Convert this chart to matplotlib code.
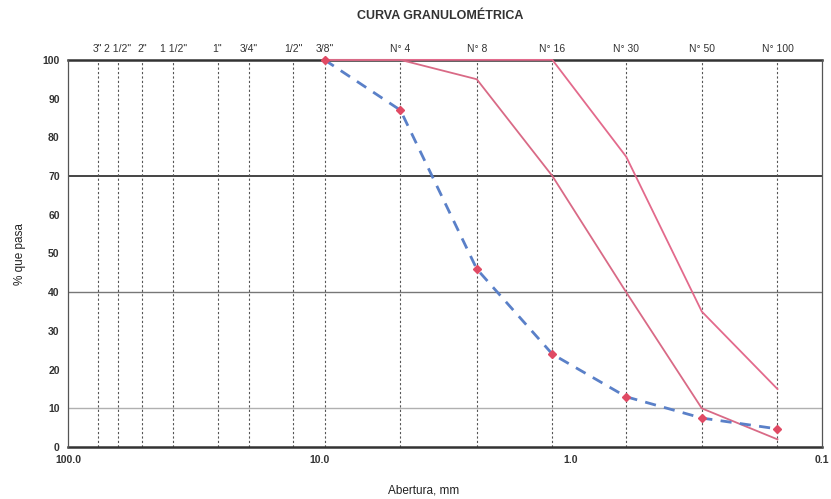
#!/usr/bin/env python3
import matplotlib
matplotlib.use("Agg")
import matplotlib.pyplot as plt

# sieve names and openings (mm)
sieve_labels = ['3"', '2 1/2"', '2"', '1 1/2"', '1"', '3/4"', '1/2"', '3/8"',
                "N° 4", "N° 8", "N° 16", "N° 30", "N° 50", "N° 100"]
sieve_mm = [76.2, 63.5, 50.8, 38.1, 25.4, 19.05, 12.7, 9.525,
            4.75, 2.36, 1.18, 0.6, 0.3, 0.15]

# curves plotted from 3/8" down to N° 100
curve_mm = [9.525, 4.75, 2.36, 1.18, 0.6, 0.3, 0.15]
sample_pass = [100, 87, 46, 24, 13, 7.5, 4.7]
upper_limit = [100, 100, 100, 100, 75, 35, 15]
lower_limit = [100, 100, 95, 70, 40, 10, 2]

y_ticks = list(range(0, 101, 10))
x_ticks = [100, 10, 1, 0.1]
x_tick_labels = ["100.0", "10.0", "1.0", "0.1"]

plt.rcParams["font.family"] = ["Liberation Sans", "DejaVu Sans"]

fig = plt.figure(figsize=(8.31, 4.99), dpi=100)
ax = fig.add_axes([0.0818, 0.104, 0.907, 0.776])

ax.set_xscale("log")
ax.set_xlim(100, 0.1)
ax.set_ylim(0, 100)

# horizontal reference lines
ax.axhline(70, color="#444444", lw=1.4, zorder=1)
ax.axhline(40, color="#777777", lw=1.0, zorder=1)
ax.axhline(10, color="#b0b0b0", lw=1.0, zorder=1)

# vertical sieve lines
for d in sieve_mm:
    ax.axvline(d, color="#555555", lw=0.8, ls=(0, (2, 2)), zorder=1)

ax.plot(curve_mm, upper_limit, color="#e36a8c", lw=1.3, zorder=3, clip_on=False)
ax.plot(curve_mm, lower_limit, color="#d96a86", lw=1.3, zorder=3, clip_on=False)
ax.plot(curve_mm, sample_pass, color="#5a80c8", lw=2.0, ls=(0, (4, 3)),
        marker="D", markersize=4.5, markerfacecolor="#e04a64",
        markeredgecolor="#e04a64", zorder=4, clip_on=False)

for side in ["top", "bottom"]:
    ax.spines[side].set_linewidth(1.8)
    ax.spines[side].set_color("#333333")
    ax.spines[side].set_zorder(2)
for side in ["left", "right"]:
    ax.spines[side].set_linewidth(0.9)
    ax.spines[side].set_color("#555555")

ax.set_yticks(y_ticks)
ax.set_yticklabels([str(v) for v in y_ticks], fontsize=7.5, fontweight="bold",
                   color="#333333")
ax.set_xticks(x_ticks)
ax.set_xticklabels(x_tick_labels, fontsize=7.5, fontweight="bold", color="#333333")
ax.xaxis.set_minor_locator(matplotlib.ticker.NullLocator())
ax.tick_params(axis="both", length=0, pad=6)

# sieve names on top
sec = ax.secondary_xaxis("top")
sec.set_xticks(sieve_mm)
sec.set_xticklabels(sieve_labels, fontsize=7.5, color="#333333")
sec.xaxis.set_minor_locator(matplotlib.ticker.NullLocator())
sec.tick_params(length=0, pad=4)
sec.spines["top"].set_visible(False)

fig.text(0.53, 0.967, "CURVA GRANULOMÉTRICA", ha="center", va="center",
         fontsize=9, fontweight="bold", color="#333333")
fig.text(0.51, 0.018, "Abertura, mm", ha="center", va="center",
         fontsize=8.5, color="#222222")
fig.text(0.024, 0.49, "% que pasa", ha="center", va="center", rotation=90,
         fontsize=8.5, color="#222222")

fig.savefig("out.png", dpi=100)
